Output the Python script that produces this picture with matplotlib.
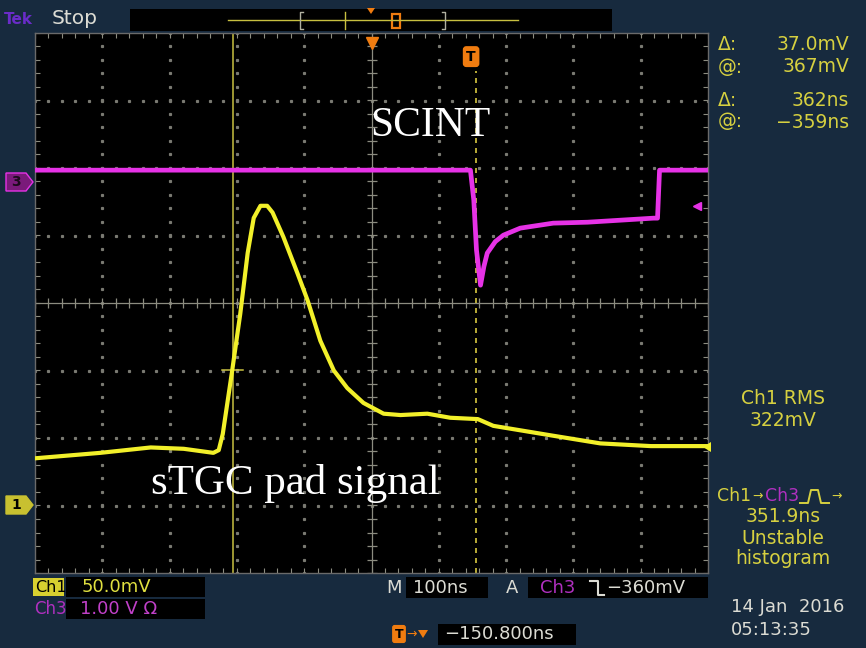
import numpy as np
import matplotlib
matplotlib.use("Agg")
import matplotlib.pyplot as plt
from matplotlib.patches import Rectangle, Polygon

# --- scope settings ---
ns_per_div = 100
ch1_mv_per_div = 50.0
ch3_mv_per_div = 1000.0
ch1_pos_div = -3.0
ch3_pos_div = 1.79
trig_level_mv = -360

# --- Ch1: sTGC pad signal (time ns, mV) ---
ch1_t = [-499, -403, -328, -279, -235, -227, -221, -207, -195, -184, -175, -165,
         -155, -147, -131, -110, -95, -76, -56, -36, -12, 18, 43, 83, 117, 158,
         181, 266, 340, 415, 501]
ch1_mv = [35, 39, 43, 42, 39, 41, 53, 100, 142, 187, 213, 222,
          222, 217, 199, 172, 152, 122, 100, 87, 76, 68, 67, 68, 65, 64,
          59, 52, 46, 44, 44]

# --- Ch3: scintillator (time ns, mV) ---
ch3_t = [-499, 147, 152, 156, 162, 167, 172, 184, 196, 221, 270, 321, 370, 419, 425, 428, 501]
ch3_mv = [178, 178, -267, -1007, -1526, -1250, -1050, -880, -785, -681, -607, -593, -563,
          -533, -533, 178, 178]

# --- cursors (ns, div) ---
cursor_a_t = -206.5
cursor_b_t = 155
cursor_a_level = -0.99
trigger_t = 152

readouts = [("Δ:", "37.0mV"), ("@:", "367mV"), ("Δ:", "362ns"), ("@:", "−359ns")]

W, H = 866, 648
NAVY = "#172a3e"
YEL = "#f2f02a"
MAG = "#e632e6"
TXT_Y = "#d6d040"
LIGHT = "#dcdcd4"
ORANGE = "#f07c10"
SCOPE_FONT = "DejaVu Sans"

fig = plt.figure(figsize=(W / 100, H / 100), dpi=100, facecolor=NAVY)

# graticule: pixels x 35..708, y 33..573
L, R, T, B = 35, 708, 33, 573
ax = fig.add_axes([L / W, 1 - B / H, (R - L) / W, (B - T) / H], facecolor="black")
ax.set_xlim(-5 * ns_per_div, 5 * ns_per_div)
ax.set_ylim(-4, 4)
ax.set_xticks([])
ax.set_yticks([])
for s in ax.spines.values():
    s.set_color("#6a6a6a")
    s.set_linewidth(1.0)

grid_c = "#7a7a72"
minor_t = np.arange(-500, 501, 20)
minor_v = np.arange(-4, 4.01, 0.2)
for gx in range(-400, 401, 100):
    if gx == 0:
        continue
    ax.plot(np.full_like(minor_v, gx), minor_v, ls="none", marker="s", ms=1.3,
            color=grid_c, zorder=1)
for gy in range(-3, 4):
    if gy == 0:
        continue
    ax.plot(minor_t, np.full_like(minor_t, gy, dtype=float), ls="none", marker="s",
            ms=1.3, color=grid_c, zorder=1)
# centre crosshair with ticks
ax.axhline(0, color="#8c8c80", lw=0.9, zorder=1)
ax.axvline(0, color="#8c8c80", lw=0.9, zorder=1)
ax.plot(minor_t, np.zeros_like(minor_t), ls="none", marker="|", ms=7, mew=0.9,
        color="#8c8c80", zorder=1)
ax.plot(np.zeros_like(minor_v), minor_v, ls="none", marker="_", ms=7, mew=0.9,
        color="#8c8c80", zorder=1)
# edge ticks
for yy in (-4, 4):
    ax.plot(minor_t, np.full_like(minor_t, yy, dtype=float), ls="none", marker="|",
            ms=7, mew=0.8, color="#8c8c80", zorder=1)
for xx in (-500, 500):
    ax.plot(np.full_like(minor_v, xx), minor_v, ls="none", marker="_", ms=7, mew=0.8,
            color="#8c8c80", zorder=1)

# cursors
ax.axvline(cursor_a_t, color="#c8c040", lw=1.1, zorder=2)
ax.axvline(cursor_b_t, ymax=0.93, color="#d8c840", lw=1.2, ls=(0, (3, 3)), zorder=2)
ax.plot([cursor_a_t - 15, cursor_a_t + 15], [cursor_a_level, cursor_a_level],
        color="#c8c040", lw=1.1, zorder=2)

# traces
ch3_div = ch3_pos_div + np.array(ch3_mv) / ch3_mv_per_div
ch1_div = ch1_pos_div + np.array(ch1_mv) / ch1_mv_per_div
ax.plot(ch3_t, ch3_div, color=MAG, lw=3.4, solid_joinstyle="round", zorder=3)
ax.plot(ch1_t, ch1_div, color=YEL, lw=3.0, solid_joinstyle="round", zorder=3)

# trigger level arrow (Ch3)
ax.plot([484], [ch3_pos_div + trig_level_mv / ch3_mv_per_div], marker="<", ms=6,
        color=MAG, zorder=4)

# centre / trigger markers at top
ax.plot([0], [3.85], marker="v", ms=9, color=ORANGE, zorder=4, clip_on=False)
ax.text(trigger_t - 4, 3.65, "T", ha="center", va="center", color="black",
        fontsize=10, fontweight="bold", family=SCOPE_FONT, zorder=5,
        bbox=dict(boxstyle="round,pad=0.2", fc=ORANGE, ec=ORANGE))

# annotations on the screen
ax.text(-2, 2.62, "SCINT", color="white", fontsize=30, family="Liberation Serif",
        ha="left", va="center", zorder=6)
ax.text(-328, -2.68, "sTGC pad signal", color="white", fontsize=31,
        family="Liberation Serif", ha="left", va="center", zorder=6)

# overlay in pixel units
ov = fig.add_axes([0, 0, 1, 1], facecolor="none")
ov.set_xlim(0, W)
ov.set_ylim(H, 0)
ov.axis("off")

def box(x0, y0, x1, y1, fc="black", ec="none"):
    ov.add_patch(Rectangle((x0, y0), x1 - x0, y1 - y0, fc=fc, ec=ec, lw=0.8))

def txt(x, y, s, c=LIGHT, size=13, ha="left", **kw):
    ov.text(x, y, s, color=c, fontsize=size, ha=ha, va="center", family=SCOPE_FONT, **kw)

# top bar
txt(4, 19, "Tek", c="#6a2cc8", size=11, fontweight="bold")
txt(52, 19, "Stop", size=14.5)
box(130, 9, 612, 31)
ov.plot([228, 518], [20, 20], color="#c8c040", lw=1.0)
ov.plot([303, 300, 300, 303], [12, 12, 29, 29], color="#b0b0a0", lw=1.0)
ov.plot([442, 445, 445, 442], [12, 12, 29, 29], color="#b0b0a0", lw=1.0)
ov.plot([345, 345], [12, 29], color="#c8c040", lw=1.0)
ov.add_patch(Polygon([[367, 8], [375, 8], [371, 14]], fc=ORANGE, ec="none"))
ov.add_patch(Rectangle((392, 14), 8, 14, fc="none", ec=ORANGE, lw=1.6))

# side channel markers
ov.add_patch(Polygon([[6, 173], [26, 173], [33, 182], [26, 191], [6, 191]],
                     fc="#7a1a7a", ec=MAG, lw=1))
txt(16, 182, "3", c="#1a0a1a", size=10, ha="center", fontweight="bold")
ov.add_patch(Polygon([[6, 496], [26, 496], [33, 505], [26, 514], [6, 514]],
                     fc="#c8c030", ec="#c8c030", lw=1))
txt(16, 505, "1", c="black", size=10, ha="center", fontweight="bold")
ov.add_patch(Polygon([[703, 447], [711, 442], [711, 452]], fc=YEL, ec="none"))

# cursor readouts
for i, (lab, val) in enumerate(readouts):
    y = [45, 67, 101, 122][i]
    txt(718, y, lab, c=TXT_Y, size=13.5)
    txt(849, y, val, c=TXT_Y, size=13.5, ha="right")

txt(783, 398, "Ch1 RMS", c=TXT_Y, size=13.5, ha="center")
txt(783, 420, "322mV", c=TXT_Y, size=13.5, ha="center")
txt(717, 496, "Ch1", c=TXT_Y, size=12.5)
txt(752, 496, "→", c=TXT_Y, size=9)
txt(765, 496, "Ch3", c="#b030c0", size=12.5)
ov.plot([800, 808, 811, 818, 821, 829], [503, 503, 490, 490, 503, 503], color=TXT_Y, lw=1.4)
txt(831, 496, "→", c=TXT_Y, size=9)
txt(783, 517, "351.9ns", c=TXT_Y, size=13.5, ha="center")
txt(783, 538, "Unstable", c=TXT_Y, size=13.5, ha="center")
txt(783, 559, "histogram", c=TXT_Y, size=13.5, ha="center")

# bottom status rows
box(33, 578, 64, 596, fc="#d8d030")
txt(35, 587, "Ch1", c="black", size=11.5)
box(66, 577, 205, 597)
txt(82, 587, "50.0mV", c="#e0e040", size=13)
txt(34, 609, "Ch3", c="#b030c0", size=12)
box(66, 599, 205, 619)
txt(80, 609, "1.00 V Ω", c="#c040c8", size=13)

txt(386, 588, "M", size=13)
box(406, 577, 488, 598)
txt(413, 588, "100ns", size=13)
txt(506, 588, "A", size=13)
box(528, 577, 708, 598)
txt(540, 588, "Ch3", c="#b030c0", size=13)
ov.plot([590, 598, 598, 604], [581, 581, 595, 595], color=LIGHT, lw=1.5)
txt(606, 588, "−360mV", size=13)

ov.text(399, 634, "T", color="black", fontsize=9, fontweight="bold", ha="center",
        va="center", family=SCOPE_FONT,
        bbox=dict(boxstyle="round,pad=0.15", fc=ORANGE, ec=ORANGE))
txt(406, 634, "→", c=ORANGE, size=9)
ov.add_patch(Polygon([[418, 630], [428, 630], [423, 638]], fc=ORANGE, ec="none"))
box(438, 624, 576, 645)
txt(444, 634, "−150.800ns", size=13)

txt(731, 607, "14 Jan  2016", size=13)
txt(731, 630, "05:13:35", size=13)

fig.savefig("out.png", dpi=100, facecolor=NAVY)
